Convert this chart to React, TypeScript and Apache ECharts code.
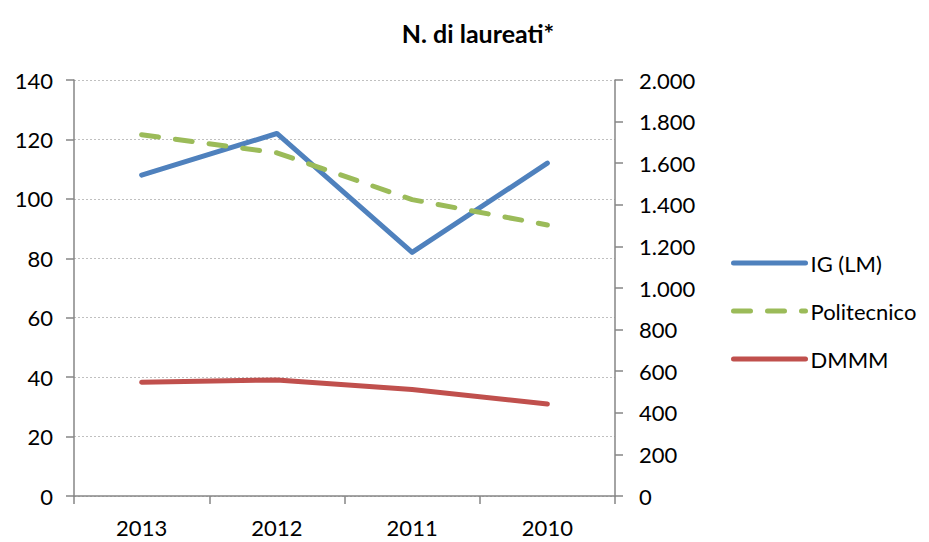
import React, { useEffect, useRef } from "react";
import * as echarts from "echarts";

const categories = ["2013", "2012", "2011", "2010"];
const igLM = [108, 122, 82, 112];
const politecnico = [1737, 1650, 1425, 1303];
const dmmm = [547, 558, 512, 442];

const fmt = (v: number) => String(v).replace(/\B(?=(\d{3})+(?!\d))/g, ".");

export default function App() {
  const ref = useRef<HTMLDivElement>(null);
  useEffect(() => {
    if (!ref.current) return;
    const chart = echarts.init(ref.current, null, { renderer: "svg" });
    const font = "Lato, 'Open Sans', sans-serif";
    const axisColor = "#868686";
    chart.setOption({
      animation: false,
      backgroundColor: "#ffffff",
      textStyle: { fontFamily: font },
      title: {
        text: "N. di laureati*",
        left: 473,
        textAlign: "center",
        top: 15,
        textStyle: { fontFamily: font, fontSize: 25, fontWeight: "bold", color: "#000" },
      },
      grid: { left: 74, right: 314, top: 80, bottom: 46, containLabel: false },
      legend: {
        orient: "vertical",
        left: 726,
        top: 247,
        itemWidth: 72,
        itemHeight: 22,
        itemGap: 26,
        itemStyle: { opacity: 0 },
        lineStyle: { width: 5 },
        textStyle: { fontFamily: font, fontSize: 22, color: "#000" },
        data: ["IG (LM)", "Politecnico", "DMMM"],
      },
      xAxis: {
        type: "category",
        data: categories,
        boundaryGap: true,
        axisLine: { lineStyle: { color: axisColor, width: 1.5 } },
        axisTick: { show: true, length: 8, lineStyle: { color: axisColor, width: 1.5 } },
        axisLabel: { color: "#000", fontSize: 22, margin: 20, fontFamily: font },
      },
      yAxis: [
        {
          type: "value",
          min: 0,
          max: 140,
          interval: 20,
          axisLine: { show: true, lineStyle: { color: axisColor, width: 1.5 } },
          axisTick: { show: true, length: 8, lineStyle: { color: axisColor, width: 1.5 } },
          axisLabel: { color: "#000", fontSize: 22, margin: 21, fontFamily: font },
          splitLine: { show: true, lineStyle: { color: "#c0c0c0", type: [2, 2], width: 1 } },
        },
        {
          type: "value",
          min: 0,
          max: 2000,
          interval: 200,
          position: "right",
          axisLine: { show: true, lineStyle: { color: axisColor, width: 1.5 } },
          axisTick: { show: true, length: 8, lineStyle: { color: axisColor, width: 1.5 } },
          axisLabel: { color: "#000", fontSize: 22, margin: 24, fontFamily: font, formatter: (v: number) => fmt(v) },
          splitLine: { show: false },
        },
      ],
      series: [
        {
          name: "IG (LM)",
          type: "line",
          yAxisIndex: 0,
          data: igLM,
          symbol: "none",
          lineStyle: { color: "#4F81BD", width: 5, cap: "round", join: "round" },
          itemStyle: { color: "#4F81BD" },
        },
        {
          name: "Politecnico",
          type: "line",
          yAxisIndex: 1,
          data: politecnico,
          symbol: "none",
          lineStyle: { color: "#9BBB59", width: 5, type: [17, 17], cap: "round" },
          itemStyle: { color: "#9BBB59" },
        },
        {
          name: "DMMM",
          type: "line",
          yAxisIndex: 1,
          data: dmmm,
          symbol: "none",
          lineStyle: { color: "#C0504D", width: 5, cap: "round", join: "round" },
          itemStyle: { color: "#C0504D" },
        },
      ],
    });
    return () => chart.dispose();
  }, []);
  return <div ref={ref} style={{ width: 929, height: 542, position: "absolute", left: 0, top: 0 }} />;
}
